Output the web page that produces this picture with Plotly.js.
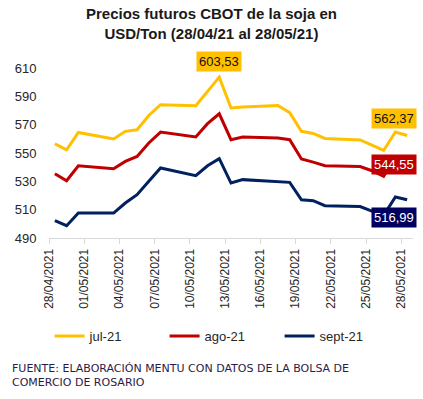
<!DOCTYPE html>
<html>
<head>
<meta charset="utf-8">
<script src="https://cdn.plot.ly/plotly-3.0.1.min.js"></script>
<style>html,body{margin:0;padding:0;background:#fff;}#chart{width:423px;height:399px;}</style>
</head>
<body>
<div id="chart"></div>
<script>
const dates = ['2021-04-28','2021-04-29','2021-04-30','2021-05-03','2021-05-04','2021-05-05','2021-05-06','2021-05-07',
  '2021-05-10','2021-05-11','2021-05-12','2021-05-13','2021-05-14','2021-05-17','2021-05-18','2021-05-19',
  '2021-05-20','2021-05-21','2021-05-24','2021-05-25','2021-05-26','2021-05-27','2021-05-28'];
const jul21 = [556.5,552.3,564.5,559.9,565.3,566.4,576.5,584.1,583.4,593.5,603.53,581.8,582.5,583.5,578.5,565.3,563.8,560.3,559.2,555.5,551.8,564.8,562.37];
const ago21 = [535.4,530.4,541.0,538.9,544.1,547.6,557.1,564.8,561.3,570.7,577.7,559.4,561.3,560.6,559.4,545.8,543.6,541.0,540.4,537.5,533.5,547.0,544.55];
const sept21 = [502.2,498.7,507.6,507.6,514.7,520.6,530.0,539.4,534.0,541.0,546.0,528.8,531.2,529.8,529.3,517.0,516.3,512.8,512.2,509.0,506.0,519.0,516.99];
const seriesNames = ['jul-21','ago-21','sept-21'];
const tickDates = ['2021-04-28','2021-05-01','2021-05-04','2021-05-07','2021-05-10','2021-05-13','2021-05-16','2021-05-19','2021-05-22','2021-05-25','2021-05-28'];
const tickLabels = ['28/04/2021','01/05/2021','04/05/2021','07/05/2021','10/05/2021','13/05/2021','16/05/2021','19/05/2021','22/05/2021','25/05/2021','28/05/2021'];
const yTicks = [490,510,530,550,570,590,610];

const colors = ['#FFC000','#C00000','#002060'];
const xs = dates.map(d => d + ' 12:00');
const fmt = v => v.toFixed(2).replace('.', ',');

const traces = [jul21, ago21, sept21].map((ys, i) => ({
  type: 'scatter', mode: 'lines', name: seriesNames[i], x: xs, y: ys,
  line: {color: colors[i], width: 3}, hoverinfo: 'skip'
}));

const last = xs.length - 1;
const peakIdx = jul21.indexOf(Math.max(...jul21));
const lab = (x, y, txt, bg, fc, xs_, ys_) => ({
  x: x, y: y, xref: 'x', yref: 'y', text: txt, showarrow: false,
  bgcolor: bg, font: {family: 'Liberation Sans, Arial, sans-serif', size: 13, color: fc},
  borderpad: 2, xshift: xs_, yshift: ys_
});

const layout = {
  width: 423, height: 399,
  margin: {l: 49, r: 10, t: 68, b: 161},
  paper_bgcolor: '#ffffff', plot_bgcolor: '#ffffff',
  font: {family: 'Liberation Sans, Arial, sans-serif', color: '#262626'},
  xaxis: {
    type: 'date', range: ['2021-04-28', '2021-05-29'],
    tickmode: 'array', tickvals: tickDates, ticktext: tickLabels, tickangle: -90,
    ticks: 'outside', ticklen: 5, tickcolor: '#d9d9d9', showline: true, linecolor: '#d9d9d9', linewidth: 1,
    showgrid: false, zeroline: false,
    tickfont: {family: 'Liberation Sans, Arial, sans-serif', size: 12, color: '#262626'}
  },
  yaxis: {
    range: [490, 610], tickmode: 'array', tickvals: yTicks,
    showgrid: false, zeroline: false, showline: false,
    ticks: 'outside', ticklen: 9, tickcolor: 'rgba(0,0,0,0)',
    tickfont: {family: 'Liberation Sans, Arial, sans-serif', size: 13, color: '#262626'}
  },
  showlegend: true,
  legend: {
    orientation: 'h', xref: 'container', x: 0.525, xanchor: 'center',
    yref: 'container', y: 1 - 336 / 399, yanchor: 'middle',
    font: {family: 'Liberation Sans, Arial, sans-serif', size: 13, color: '#262626'},
    itemwidth: 30, tracegroupgap: 0, entrywidth: 70
  },
  annotations: [
    {
      xref: 'paper', yref: 'paper', x: 0.446, y: 1.262, xanchor: 'center', yanchor: 'middle', align: 'center',
      showarrow: false,
      text: '<b>Precios futuros CBOT de la soja en<br>USD/Ton (28/04/21 al 28/05/21)</b>',
      font: {family: 'Liberation Sans, Arial, sans-serif', size: 15, color: '#1a1a1a'}
    },
    lab(xs[peakIdx], jul21[peakIdx], fmt(jul21[peakIdx]), '#FFC000', '#111111', 0, 16),
    lab(xs[last], jul21[last], fmt(jul21[last]), '#FFC000', '#111111', -13, 17),
    lab(xs[last], ago21[last], fmt(ago21[last]), '#C00000', '#ffffff', -13, -3.5),
    lab(xs[last], sept21[last], fmt(sept21[last]), '#00005e', '#ffffff', -13, -18),
    {
      xref: 'paper', yref: 'paper', x: -0.107, y: -0.807, xanchor: 'left', yanchor: 'middle', align: 'left',
      showarrow: false,
      text: 'FUENTE: ELABORACIÓN MENTU CON DATOS DE LA BOLSA DE<br>COMERCIO DE ROSARIO',
      font: {family: 'DejaVu Sans, sans-serif', size: 11, color: '#2b1b48'}
    }
  ]
};

Plotly.newPlot('chart', traces, layout, {displayModeBar: false, staticPlot: true});
</script>
</body>
</html>
